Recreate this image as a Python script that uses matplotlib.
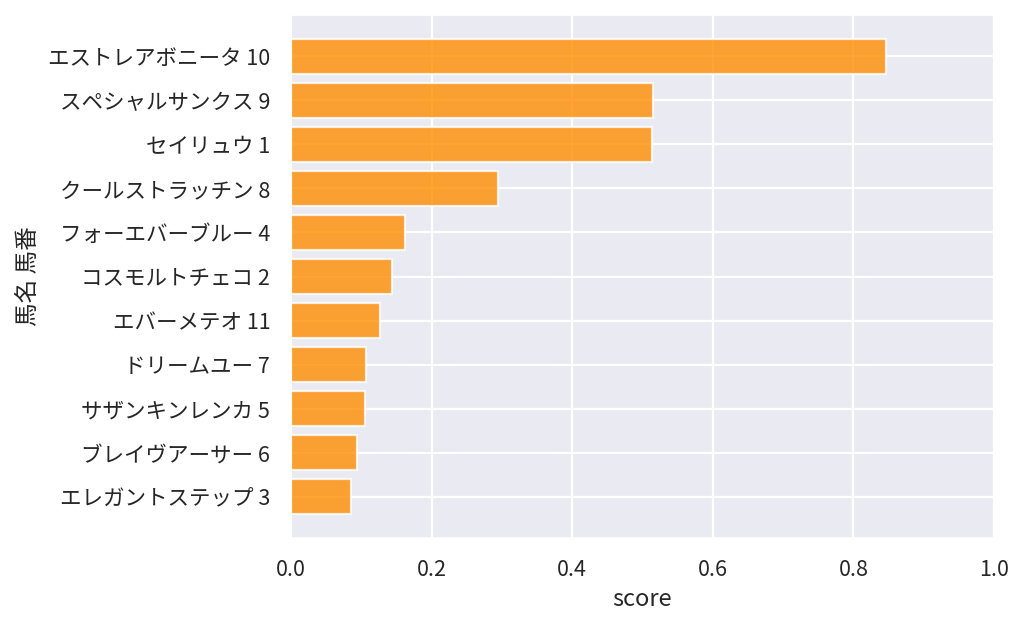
import matplotlib
matplotlib.use("Agg")
import matplotlib.pyplot as plt
import seaborn as sns

labels = ["エストレアボニータ 10", "スペシャルサンクス 9", "セイリュウ 1", "クールストラッチン 8",
          "フォーエバーブルー 4", "コスモルトチェコ 2", "エバーメテオ 11", "ドリームユー 7",
          "サザンキンレンカ 5", "ブレイヴアーサー 6", "エレガントステップ 3"]
scores = [0.846, 0.515, 0.514, 0.295, 0.162, 0.143, 0.127, 0.107, 0.105, 0.094, 0.085]
xticks = [0.0, 0.2, 0.4, 0.6, 0.8, 1.0]

sns.set_theme(style="darkgrid")
plt.rcParams['font.family'] = ['Noto Sans CJK JP', 'DejaVu Sans']

fig = plt.figure(figsize=(10.24, 6.27), dpi=100)
ax = fig.add_axes([291/1024, 1-538/627, (994-291)/1024, (538-15)/627])
ax.grid(True, color="white", linewidth=1.6)
ypos = list(range(len(labels)))[::-1]
ax.barh(ypos, scores, height=0.8, color="darkorange", alpha=0.8, edgecolor="white", linewidth=1.6)
ax.set_yticks(ypos)
ax.set_yticklabels(labels, fontsize=15.5, color="#262626")
ax.set_xlim(0, 1.0)
ax.set_xticks(xticks)
ax.set_xticklabels([f"{t:.1f}" for t in xticks], fontsize=15.5, color="#262626")
ax.tick_params(axis="both", which="major", pad=15, length=0)
ax.set_xlabel("score", fontsize=17, color="#262626", labelpad=5)
ax.set_ylabel("馬名 馬番", fontsize=17, color="#262626", labelpad=6)
fig.savefig("out.png", dpi=100)
